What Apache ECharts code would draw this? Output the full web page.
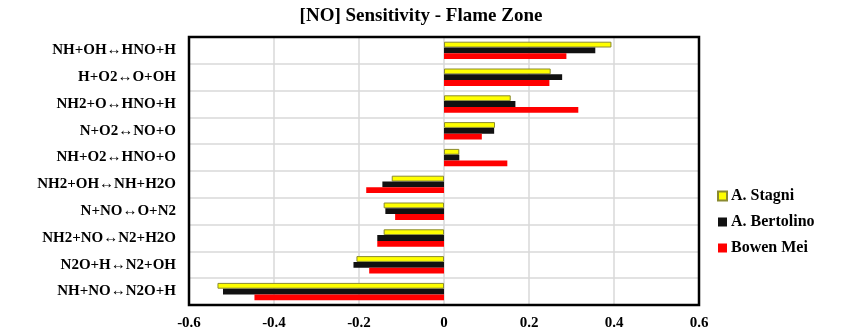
<!DOCTYPE html>
<html>
<head>
<meta charset="utf-8">
<script src="https://cdn.jsdelivr.net/npm/echarts@6/dist/echarts.min.js"></script>
<style>html,body{margin:0;padding:0;background:#fff;}#c{width:842px;height:336px;}</style>
</head>
<body>
<div id="c"></div>
<script>
const titleText = '[NO] Sensitivity - Flame Zone';
const categories = [
  'NH+OH\u2194HNO+H',
  'H+O2\u2194O+OH',
  'NH2+O\u2194HNO+H',
  'N+O2\u2194NO+O',
  'NH+O2\u2194HNO+O',
  'NH2+OH\u2194NH+H2O',
  'N+NO\u2194O+N2',
  'NH2+NO\u2194N2+H2O',
  'N2O+H\u2194N2+OH',
  'NH+NO\u2194N2O+H'
];
const seriesNames = ['A. Stagni', 'A. Bertolino', 'Bowen Mei'];
const stagni    = [0.394, 0.251, 0.157, 0.120, 0.036, -0.123, -0.142, -0.142, -0.206, -0.533];
const bertolino = [0.356, 0.278, 0.168, 0.118, 0.036, -0.145, -0.138, -0.157, -0.213, -0.520];
const bowenMei  = [0.288, 0.248, 0.316, 0.089, 0.149, -0.183, -0.115, -0.157, -0.176, -0.446];
const xTicks = { min: -0.6, max: 0.6, interval: 0.2 };

const FONT = "'Liberation Serif', 'Times New Roman', serif";
const G = { left: 189, right: 143, top: 37, bottom: 31 };
const W = 842, H = 336;
const chart = echarts.init(document.getElementById('c'), null, { renderer: 'canvas' });
chart.setOption({
  animation: false,
  backgroundColor: '#fff',
  title: {
    text: titleText, left: 'center', top: 2,
    textStyle: { fontFamily: FONT, fontWeight: 'bold', fontSize: 19, color: '#000' }
  },
  legend: {
    orient: 'vertical', left: 717, top: 188, padding: 0,
    itemWidth: 9, itemHeight: 9, itemGap: 10, icon: 'rect',
    textStyle: { fontFamily: FONT, fontWeight: 'bold', fontSize: 16, color: '#000', padding: [0, 0, 0, -1] },
    data: seriesNames
  },
  grid: {
    left: G.left, right: G.right, top: G.top, bottom: G.bottom,
    show: false, containLabel: false
  },
  graphic: [{
    type: 'rect', z: 100, silent: true,
    shape: { x: G.left, y: G.top, width: W - G.left - G.right, height: H - G.top - G.bottom },
    style: { fill: 'none', stroke: '#000', lineWidth: 2.5 }
  }],
  xAxis: {
    type: 'value', min: xTicks.min, max: xTicks.max, interval: xTicks.interval,
    axisLine: { show: false }, axisTick: { show: false },
    splitLine: { show: true, lineStyle: { color: '#d9d9d9', width: 1.5 } },
    axisLabel: { fontFamily: FONT, fontWeight: 'bold', fontSize: 15, color: '#000', margin: 11,
      formatter: v => (Math.round(v * 10) / 10).toString() }
  },
  yAxis: {
    type: 'category', data: categories, inverse: true,
    axisLine: { show: false }, axisTick: { show: false },
    splitLine: { show: true, lineStyle: { color: '#d9d9d9', width: 1.5 } },
    axisLabel: { fontFamily: FONT, fontWeight: 'bold', fontSize: 15, color: '#000', margin: 13,
      padding: [4, 0, 0, 0] }
  },
  series: [
    { name: seriesNames[0], type: 'bar', data: stagni, barWidth: 5.8, barGap: '0%',
      itemStyle: { color: '#ffff00', borderColor: '#8a8a30', borderWidth: 1 } },
    { name: seriesNames[1], type: 'bar', data: bertolino, barWidth: 5.8, barGap: '0%',
      itemStyle: { color: '#111111' } },
    { name: seriesNames[2], type: 'bar', data: bowenMei, barWidth: 5.8, barGap: '0%',
      itemStyle: { color: '#ff0000' } }
  ]
});
</script>
</body>
</html>
